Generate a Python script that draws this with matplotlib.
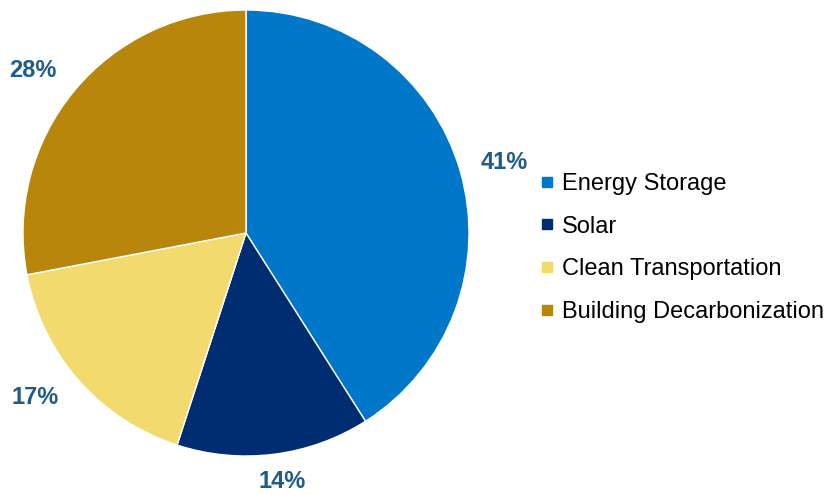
import matplotlib
matplotlib.use("Agg")
import matplotlib.pyplot as plt
from matplotlib.lines import Line2D
import numpy as np

categories = ["Energy Storage", "Solar", "Clean Transportation", "Building Decarbonization"]
values = [41, 14, 17, 28]
colors = ["#0077C8", "#002D72", "#F2DA6E", "#B8860B"]
label_dist = [1.20, 1.128, 1.20, 1.203]
label_shift_deg = [-1.0, 1.0, -3.4, 2.2]

plt.rcParams['font.family'] = ['Liberation Sans', 'DejaVu Sans']

fig = plt.figure(figsize=(8.36, 4.95), dpi=100)
ax = fig.add_axes([23/836, (495-233-223)/495, 446/836, 446/495])
wedges, _ = ax.pie(values, colors=colors, startangle=90, counterclock=False,
                   wedgeprops=dict(edgecolor="white", linewidth=1))
ax.set_xlim(-1, 1); ax.set_ylim(-1, 1)
ax.set_aspect('auto')
for w, v, d, s in zip(wedges, values, label_dist, label_shift_deg):
    ang = np.deg2rad((w.theta1 + w.theta2) / 2 + s)
    ax.text(d * np.cos(ang), d * np.sin(ang), f"{v}%", ha="center", va="center",
            fontsize=17, fontweight="bold", color="#1F5C8B", clip_on=False)

handles = [Line2D([0], [0], marker='s', linestyle='none', markersize=7.5,
                  markerfacecolor=c, markeredgecolor=c) for c in colors]
fig.legend(handles, categories, loc='center left',
           bbox_to_anchor=(541/836, 1 - 248/495), frameon=False,
           fontsize=17, handlelength=0.55, handletextpad=0.35,
           labelspacing=0.88, borderpad=0, borderaxespad=0)
fig.savefig("out.png", dpi=100)
